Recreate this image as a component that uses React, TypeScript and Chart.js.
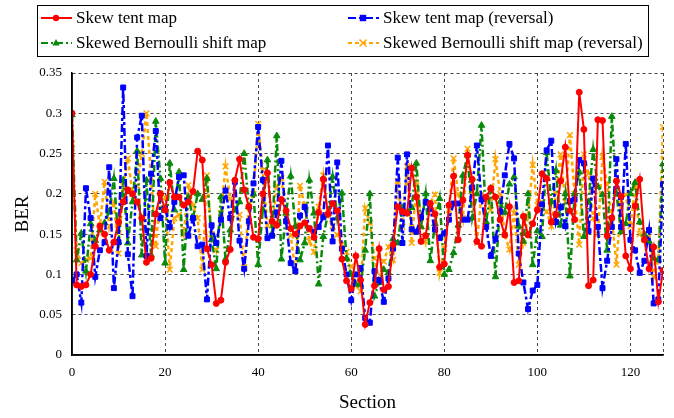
import React, { useEffect, useRef } from 'react';
import { Chart, registerables } from 'chart.js';

Chart.register(...registerables);

// Section index (0..127)
const sections: number[] = Array.from({ length: 128 }, (_, i) => i);

const xTickValues = [0, 20, 40, 60, 80, 100, 120, 127];

const skewTent = [
  0.30, 0.087, 0.085, 0.087, 0.10, 0.135, 0.16, 0.15, 0.13, 0.14,
  0.165, 0.19, 0.205, 0.20, 0.19, 0.17, 0.115, 0.12, 0.175, 0.20,
  0.18, 0.214, 0.196, 0.196, 0.186, 0.19, 0.203, 0.253, 0.242, 0.132,
  0.112, 0.064, 0.068, 0.115, 0.131, 0.217, 0.243, 0.205, 0.184, 0.146,
  0.144, 0.20, 0.226, 0.166, 0.161, 0.193, 0.179, 0.157, 0.15, 0.16,
  0.164, 0.157, 0.146, 0.177, 0.218, 0.175, 0.188, 0.179, 0.119, 0.092,
  0.082, 0.123, 0.093, 0.038, 0.065, 0.086, 0.132, 0.081, 0.085, 0.137,
  0.184, 0.178, 0.176, 0.232, 0.196, 0.141, 0.148, 0.188, 0.175, 0.109,
  0.113, 0.186, 0.222, 0.143, 0.192, 0.248, 0.218, 0.141, 0.135, 0.196,
  0.207, 0.196, 0.168, 0.149, 0.184, 0.09, 0.092, 0.172, 0.149, 0.163,
  0.18, 0.225, 0.219, 0.165, 0.174, 0.216, 0.258, 0.179, 0.168, 0.326,
  0.28, 0.086, 0.093, 0.292, 0.291, 0.148, 0.17, 0.216, 0.197, 0.123,
  0.107, 0.185, 0.218, 0.143, 0.107, 0.134, 0.066, 0.105,
];

const skewTentRev = [
  0.092, 0.10, 0.065, 0.207, 0.17, 0.097, 0.13, 0.14, 0.233, 0.083,
  0.14, 0.332, 0.125, 0.073, 0.27, 0.297, 0.123, 0.225, 0.278, 0.17,
  0.182, 0.159, 0.19, 0.221, 0.223, 0.148, 0.17, 0.135, 0.137, 0.069,
  0.161, 0.139, 0.168, 0.204, 0.17, 0.215, 0.142, 0.107, 0.166, 0.213,
  0.283, 0.217, 0.145, 0.148, 0.177, 0.241, 0.166, 0.114, 0.104, 0.173,
  0.184, 0.157, 0.153, 0.159, 0.171, 0.26, 0.141, 0.239, 0.132, 0.10,
  0.068, 0.10, 0.108, 0.046, 0.04, 0.104, 0.093, 0.066, 0.095, 0.132,
  0.245, 0.139, 0.249, 0.156, 0.153, 0.171, 0.19, 0.181, 0.156, 0.145,
  0.151, 0.168, 0.188, 0.188, 0.168, 0.168, 0.208, 0.26, 0.193, 0.159,
  0.123, 0.144, 0.178, 0.223, 0.262, 0.244, 0.126, 0.09, 0.057, 0.08,
  0.087, 0.187, 0.254, 0.266, 0.165, 0.184, 0.16, 0.191, 0.193, 0.242,
  0.238, 0.154, 0.219, 0.159, 0.083, 0.117, 0.159, 0.243, 0.159, 0.262,
  0.143, 0.13, 0.102, 0.117, 0.155, 0.064, 0.069, 0.212,
];

const bernoulli = [
  0.298, 0.118, 0.151, 0.104, 0.163, 0.142, 0.155, 0.164, 0.178, 0.219,
  0.14, 0.217, 0.139, 0.19, 0.253, 0.124, 0.217, 0.124, 0.29, 0.219,
  0.114, 0.238, 0.18, 0.227, 0.106, 0.196, 0.17, 0.20, 0.193, 0.219,
  0.143, 0.107, 0.196, 0.119, 0.155, 0.18, 0.19, 0.25, 0.184, 0.20,
  0.112, 0.18, 0.242, 0.15, 0.272, 0.119, 0.176, 0.222, 0.16, 0.118,
  0.139, 0.217, 0.176, 0.088, 0.147, 0.175, 0.221, 0.17, 0.201, 0.12,
  0.10, 0.088, 0.087, 0.13, 0.20, 0.073, 0.09, 0.106, 0.102, 0.144,
  0.139, 0.183, 0.176, 0.183, 0.238, 0.159, 0.20, 0.117, 0.163, 0.194,
  0.10, 0.106, 0.127, 0.161, 0.223, 0.248, 0.17, 0.20, 0.285, 0.165,
  0.207, 0.097, 0.19, 0.177, 0.212, 0.221, 0.16, 0.141, 0.20, 0.112,
  0.154, 0.147, 0.251, 0.19, 0.229, 0.161, 0.20, 0.098, 0.20, 0.227,
  0.147, 0.19, 0.255, 0.209, 0.199, 0.13, 0.296, 0.20, 0.153, 0.163,
  0.20, 0.214, 0.165, 0.15, 0.141, 0.12, 0.118, 0.237,
];

const bernoulliRev = [
  0.262, 0.13, 0.114, 0.118, 0.12, 0.20, 0.16, 0.215, 0.16, 0.19,
  0.126, 0.21, 0.244, 0.20, 0.21, 0.25, 0.30, 0.22, 0.135, 0.20,
  0.196, 0.106, 0.17, 0.174, 0.15, 0.211, 0.185, 0.17, 0.106, 0.223,
  0.15, 0.13, 0.176, 0.234, 0.194, 0.18, 0.174, 0.109, 0.184, 0.20,
  0.287, 0.229, 0.161, 0.161, 0.21, 0.22, 0.17, 0.148, 0.104, 0.21,
  0.186, 0.141, 0.128, 0.184, 0.223, 0.172, 0.16, 0.149, 0.137, 0.128,
  0.11, 0.086, 0.079, 0.182, 0.164, 0.12, 0.093, 0.116, 0.134, 0.118,
  0.216, 0.159, 0.234, 0.139, 0.211, 0.17, 0.141, 0.189, 0.199, 0.102,
  0.132, 0.18, 0.244, 0.20, 0.17, 0.256, 0.203, 0.139, 0.20, 0.194,
  0.18, 0.243, 0.20, 0.149, 0.131, 0.176, 0.112, 0.139, 0.172, 0.236,
  0.186, 0.19, 0.178, 0.16, 0.20, 0.249, 0.19, 0.273, 0.20, 0.137,
  0.249, 0.225, 0.17, 0.15, 0.246, 0.211, 0.17, 0.112, 0.192, 0.199,
  0.16, 0.207, 0.15, 0.143, 0.155, 0.097, 0.118, 0.283,
];

const seriesNames = [
  'Skew tent map',
  'Skew tent map (reversal)',
  'Skewed Bernoulli shift map',
  'Skewed Bernoulli shift map (reversal)',
];

const RED = '#ff0000';
const BLUE = '#0000ff';
const GREEN = '#0a8a0a';
const ORANGE = '#ffa500';

const SERIF = '"Liberation Serif", "DejaVu Serif", serif';

type LegendEntry = { name: string; color: string; dash: number[]; marker: string; width: number };

const legendEntries: LegendEntry[] = [
  { name: seriesNames[0], color: RED, dash: [], marker: 'circle', width: 2 },
  { name: seriesNames[1], color: BLUE, dash: [8, 3, 3, 3], marker: 'rect', width: 2.5 },
  { name: seriesNames[2], color: GREEN, dash: [7, 3, 2, 3], marker: 'triangle', width: 2.5 },
  { name: seriesNames[3], color: ORANGE, dash: [4, 3], marker: 'crossRot', width: 2.5 },
];

function drawMarker(ctx: CanvasRenderingContext2D, kind: string, x: number, y: number, color: string) {
  ctx.save();
  ctx.setLineDash([]);
  ctx.fillStyle = color;
  ctx.strokeStyle = color;
  if (kind === 'circle') {
    ctx.beginPath();
    ctx.arc(x, y, 3.2, 0, Math.PI * 2);
    ctx.fill();
  } else if (kind === 'rect') {
    ctx.fillRect(x - 3.2, y - 3.2, 6.4, 6.4);
  } else if (kind === 'triangle') {
    ctx.beginPath();
    ctx.moveTo(x, y - 4);
    ctx.lineTo(x + 3.6, y + 2.6);
    ctx.lineTo(x - 3.6, y + 2.6);
    ctx.closePath();
    ctx.fill();
  } else {
    ctx.lineWidth = 1.5;
    ctx.beginPath();
    ctx.moveTo(x - 3.5, y - 3.5);
    ctx.lineTo(x + 3.5, y + 3.5);
    ctx.moveTo(x + 3.5, y - 3.5);
    ctx.lineTo(x - 3.5, y + 3.5);
    ctx.stroke();
  }
  ctx.restore();
}

const boxLegend = {
  id: 'boxLegend',
  afterDraw(chart: any) {
    const ctx: CanvasRenderingContext2D = chart.ctx;
    ctx.save();
    ctx.setLineDash([]);
    ctx.strokeStyle = '#000';
    ctx.lineWidth = 1;
    ctx.strokeRect(37.5, 5.5, 611, 51);
    ctx.font = `17px ${SERIF}`;
    ctx.textBaseline = 'middle';
    ctx.textAlign = 'left';
    legendEntries.forEach((e, k) => {
      const col = k % 2;
      const row = Math.floor(k / 2);
      const x0 = col === 0 ? 41 : 348;
      const y = row === 0 ? 18 : 43;
      ctx.save();
      ctx.strokeStyle = e.color;
      ctx.lineWidth = 2;
      ctx.setLineDash(e.dash);
      ctx.beginPath();
      ctx.moveTo(x0, y);
      ctx.lineTo(x0 + 31, y);
      ctx.stroke();
      ctx.restore();
      drawMarker(ctx, e.marker, x0 + 15, y, e.color);
      ctx.fillStyle = '#000';
      ctx.fillText(e.name, x0 + 35, y + 1);
    });
    ctx.restore();
  },
};

function makeData(values: number[]) {
  return values.map((v, i) => ({ x: sections[i], y: v }));
}

export default function App() {
  const ref = useRef<HTMLCanvasElement | null>(null);

  useEffect(() => {
    if (!ref.current) return;
    const common = { fill: false, tension: 0, pointBorderWidth: 1 };
    const chart = new Chart(ref.current, {
      type: 'line',
      data: {
        datasets: [
          {
            ...common,
            label: seriesNames[0],
            data: makeData(skewTent),
            borderColor: RED,
            backgroundColor: RED,
            borderWidth: 2,
            pointStyle: 'circle',
            pointRadius: 3,
          },
          {
            ...common,
            label: seriesNames[1],
            data: makeData(skewTentRev),
            borderColor: BLUE,
            backgroundColor: BLUE,
            borderWidth: 2.5,
            borderDash: [8, 3, 3, 3],
            pointStyle: 'rect',
            pointRadius: 3.5,
          },
          {
            ...common,
            label: seriesNames[2],
            data: makeData(bernoulli),
            borderColor: GREEN,
            backgroundColor: GREEN,
            borderWidth: 2.5,
            borderDash: [7, 3, 2, 3],
            pointStyle: 'triangle',
            pointRadius: 3.8,
          },
          {
            ...common,
            label: seriesNames[3],
            data: makeData(bernoulliRev),
            borderColor: ORANGE,
            backgroundColor: ORANGE,
            borderWidth: 2.5,
            borderDash: [4, 3],
            pointStyle: 'crossRot',
            pointRadius: 4,
            pointBorderWidth: 1.5,
          },
        ],
      },
      options: {
        responsive: false,
        animation: false,
        devicePixelRatio: 1,
        layout: { padding: { left: 0, right: 11, top: 73, bottom: 0 } },
        plugins: {
          legend: { display: false },
          tooltip: { enabled: false },
        },
        scales: {
          x: {
            type: 'linear',
            min: 0,
            max: 127,
            afterBuildTicks: (scale: any) => {
              scale.ticks = xTickValues.map((v) => ({ value: v }));
            },
            afterFit: (scale: any) => {
              scale.height = 63;
            },
            ticks: {
              autoSkip: false,
              maxRotation: 0,
              padding: 10,
              color: '#000',
              font: { family: SERIF, size: 13 },
              callback: (v: any) => (Number(v) === 127 ? '' : String(v)),
            },
            grid: {
              drawTicks: false,
              color: (c: any) => (c.tick && c.tick.value === 0 ? 'rgba(0,0,0,0)' : '#444'),
              lineWidth: 1,
            },
            border: { display: true, color: '#000', width: 1.5, dash: [3, 3] },
            title: {
              display: true,
              text: 'Section',
              color: '#000',
              font: { family: SERIF, size: 19 },
              padding: { top: 0, bottom: 4 },
            },
          },
          y: {
            min: 0,
            max: 0.35,
            afterFit: (scale: any) => {
              scale.width = 72;
            },
            ticks: {
              stepSize: 0.05,
              padding: 10,
              color: '#000',
              font: { family: SERIF, size: 13 },
              callback: (v: any) => String(Number(Number(v).toFixed(2))),
            },
            grid: {
              drawTicks: false,
              color: (c: any) => (c.tick && c.tick.value === 0 ? 'rgba(0,0,0,0)' : '#444'),
              lineWidth: 1,
            },
            border: { display: true, color: '#000', width: 1.5, dash: [3, 3] },
            title: {
              display: true,
              text: 'BER',
              color: '#000',
              font: { family: SERIF, size: 19 },
              padding: { top: 12, bottom: 0 },
            },
          },
        },
      } as any,
      plugins: [boxLegend, {
        id: 'solidAxes',
        afterDatasetsDraw(chart: any) {
          const { ctx, chartArea } = chart;
          ctx.save();
          ctx.setLineDash([]);
          ctx.strokeStyle = '#000';
          ctx.lineWidth = 1.5;
          ctx.beginPath();
          ctx.moveTo(chartArea.left, chartArea.top);
          ctx.lineTo(chartArea.left, chartArea.bottom);
          ctx.lineTo(chartArea.right, chartArea.bottom);
          ctx.stroke();
          ctx.restore();
        },
      }],
    });
    return () => chart.destroy();
  }, []);

  return (
    <div style={{ position: 'fixed', left: 0, top: 0, width: 674, height: 418, background: '#fff' }}>
      <canvas ref={ref} width={674} height={418} />
    </div>
  );
}
